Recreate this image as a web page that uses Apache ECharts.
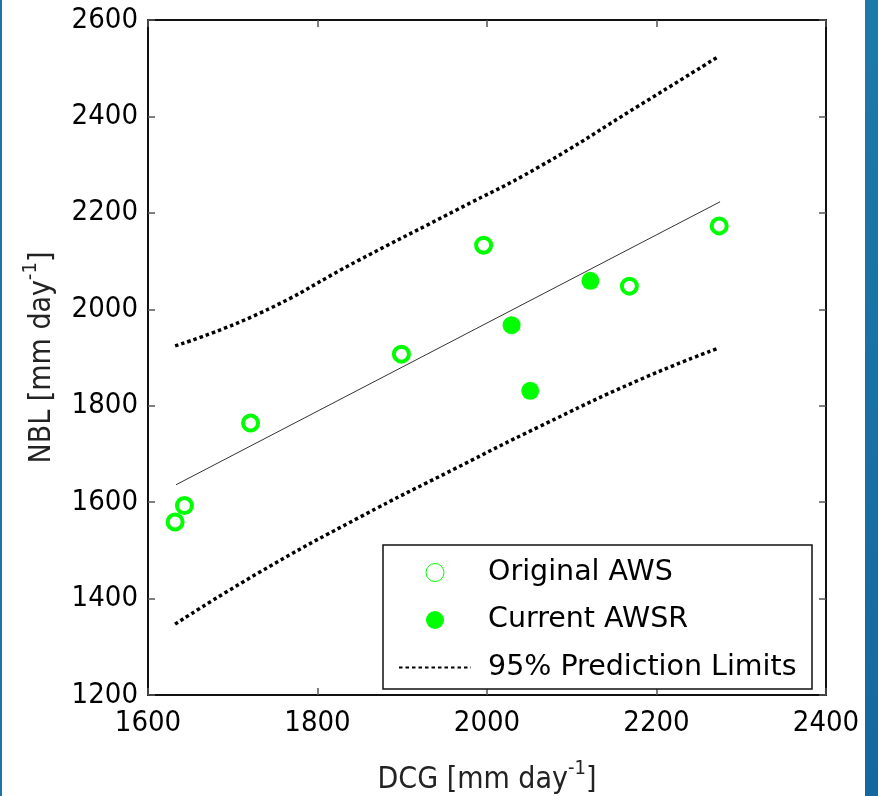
<!DOCTYPE html>
<html>
<head>
<meta charset="utf-8">
<script src="https://cdn.jsdelivr.net/npm/echarts@6/dist/echarts.min.js"></script>
<style>
    html, body { margin: 0; padding: 0; background: #fff; }
    #a { width: 878px; height: 796px; position: relative; }
    .bar-l { position: absolute; left: 0; top: 0; width: 2px; height: 796px; background: #1b75a6; }
    .bar-r { position: absolute; left: 865px; top: 0; width: 13px; height: 796px; background: linear-gradient(#1c7aaa, #15689f); }
</style>
</head>
<body>
<div id="a"></div>
<div class="bar-l"></div>
<div class="bar-r"></div>
<script>
    // data
    var origX = [1632, 1643, 1721, 1899, 1996, 2168, 2274];
    var origY = [1559, 1593, 1764, 1907, 2133, 2048, 2173];
    var currX = [2029, 2051, 2122];
    var currY = [1967, 1831, 2059];
    var fitX = [1633, 2275];
    var fitY = [1636, 2223];
    var limX = [1632, 1732, 1849, 1964, 2061, 2179, 2271];
    var upperY = [1924, 1992, 2102, 2206, 2295, 2422, 2522];
    var lowerY = [1347, 1455, 1568, 1671, 1756, 1853, 1918];

    var font = '"DejaVu Sans Condensed", "Noto Sans", sans-serif';
    var legendFont = '"DejaVu Sans", sans-serif';
    var green = '#00ff00';

    function pairs(x, y) {
        var d = [];
        for (var i = 0; i < x.length; i++) d.push([x[i], y[i]]);
        return d;
    }

    var boxAxis = {
        axisLine: { lineStyle: { color: '#111', width: 2 } },
        axisTick: { inside: true, length: 7, lineStyle: { color: '#555', width: 1.5 } },
        splitLine: { show: false }
    };
    var nameRich = {
        a: { fontSize: 30, fontFamily: font, color: '#222', verticalAlign: 'bottom', lineHeight: 36 },
        s: { fontSize: 20, fontFamily: font, color: '#222', verticalAlign: 'top', lineHeight: 36, padding: [0, 0, 15, 0] }
    };
    var plain = function (v) { return String(v); };

    var option = {
        animation: false,
        grid: { left: 148, right: 52, top: 20, bottom: 101, outerBoundsMode: 'none' },
        xAxis: [
            Object.assign({
                type: 'value', min: 1600, max: 2400, interval: 200, position: 'bottom',
                axisLabel: { color: '#000', fontSize: 29, fontFamily: font, margin: 14, formatter: plain },
                name: '{a|DCG [mm day}{s|-1}{a|]}',
                nameLocation: 'middle', nameGap: 64,
                nameTextStyle: { rich: nameRich }
            }, boxAxis),
            Object.assign({
                type: 'value', min: 1600, max: 2400, interval: 200, position: 'top',
                axisLabel: { show: false }
            }, boxAxis)
        ],
        yAxis: [
            Object.assign({
                type: 'value', min: 1200, max: 2600, interval: 200, position: 'left',
                axisLabel: { color: '#000', fontSize: 29, fontFamily: font, margin: 10, formatter: plain },
                name: '{a|NBL [mm day}{s|-1}{a|]}',
                nameLocation: 'middle', nameGap: 91,
                nameTextStyle: { rich: nameRich }
            }, boxAxis),
            Object.assign({
                type: 'value', min: 1200, max: 2600, interval: 200, position: 'right',
                axisLabel: { show: false }
            }, boxAxis)
        ],
        legend: {
            left: 383, top: 545,
            orient: 'vertical',
            backgroundColor: '#fff',
            borderColor: '#111', borderWidth: 1.5, borderRadius: 0,
            padding: [13, 13, 7, 15],
            itemWidth: 72, itemHeight: 18, itemGap: 18.5,
            textStyle: { fontSize: 28.5, fontFamily: legendFont, color: '#000', lineHeight: 28, width: 311, padding: [0, 0, 0, 12] },
            data: [
                { name: 'Original AWS', icon: 'circle', itemStyle: { color: '#fff', borderColor: green, borderWidth: 1 } },
                { name: 'Current AWSR', icon: 'circle', itemStyle: { color: green, borderWidth: 0 } },
                { name: '95% Prediction Limits', itemStyle: { color: 'rgba(0,0,0,0)', borderColor: 'rgba(0,0,0,0)', opacity: 0 } }
            ]
        },
        series: [
            {
                name: 'fit', type: 'line', data: pairs(fitX, fitY),
                symbol: 'none', silent: true,
                lineStyle: { color: '#333', width: 1 }
            },
            {
                name: '95% Prediction Limits', type: 'line', data: pairs(limX, upperY),
                symbol: 'none', smooth: 0.5,
                lineStyle: { color: '#000', width: 3.5, type: [3.5, 3] },
                itemStyle: { color: '#000' }
            },
            {
                name: '95% Prediction Limits', type: 'line', data: pairs(limX, lowerY),
                symbol: 'none', smooth: 0.5,
                lineStyle: { color: '#000', width: 3.5, type: [3.5, 3] },
                itemStyle: { color: '#000' }
            },
            {
                name: 'Original AWS', type: 'scatter', data: pairs(origX, origY),
                symbol: 'circle', symbolSize: 15,
                itemStyle: { color: 'rgba(255,255,255,0)', borderColor: green, borderWidth: 4, opacity: 1 }
            },
            {
                name: 'Current AWSR', type: 'scatter', data: pairs(currX, currY),
                symbol: 'circle', symbolSize: 18,
                itemStyle: { color: green, opacity: 1 }
            }
        ]
    };

    echarts.init(document.getElementById('a')).setOption(option);
</script>
</body>
</html>
